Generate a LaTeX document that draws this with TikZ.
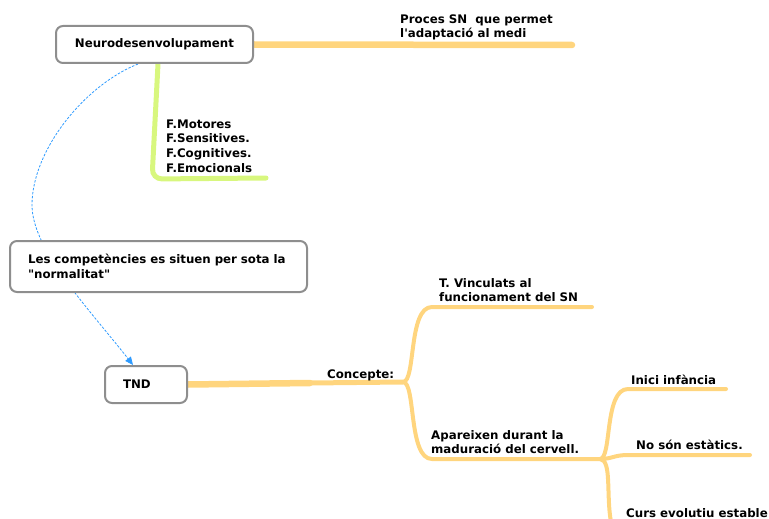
\documentclass[tikz,border=0pt]{standalone}
\usepackage{fontspec}
\setmainfont{DejaVu Sans}
\usetikzlibrary{arrows.meta}
\pgfdeclarelayer{links}
\pgfsetlayers{links,main}

\definecolor{branchorange}{HTML}{FFD57E}
\definecolor{branchgreen}{HTML}{D8F77E}
\definecolor{boxgray}{HTML}{8E8E8E}
\definecolor{linkblue}{HTML}{2E9BFF}

\tikzset{
  topic/.style={draw=boxgray, line width=2pt, rounded corners=7pt, fill=white,
    inner ysep=0pt, font=\bfseries\fontsize{11.8}{15.5}\selectfont},
  txt/.style={anchor=west, inner sep=0pt, align=left,
    font=\bfseries\fontsize{11.8}{14.6}\selectfont},
  trunk/.style={draw=branchorange, line width=6.5pt, line cap=round},
  twig/.style={draw=branchorange, line width=4pt, line cap=round},
  greentwig/.style={draw=branchgreen, line width=5pt, line cap=round, rounded corners=10pt},
  relation/.style={draw=linkblue, line width=0.8pt, dash pattern=on 2.5pt off 1.5pt,
    -{Triangle[length=8pt,width=7pt]}},
}

\begin{document}
\begin{tikzpicture}[x=1pt,y=-1pt]
\useasboundingbox (0,0) rectangle (769,519);

% central topics
\node[topic, minimum width=197pt, minimum height=37pt] (neuro) at (154.5,44.5) {Neurodesenvolupament};
\node[topic, text width=261pt, inner xsep=18pt, minimum height=51pt, align=left] (compet) at (158.5,266.5)
  {Les competències es situen per sota la\\\textquotedbl normalitat\textquotedbl};
\node[topic, text width=46pt, inner xsep=18pt, minimum height=37pt, align=left] (tnd) at (146,384.5) {TND};

% branch labels
\node[txt] (proces) at (400,27.5) {Proces SN\ \ que permet\\l\textquotesingle adaptació al medi};
\node[txt] (funcions) at (166,146) {F.Motores\\F.Sensitives.\\F.Cognitives.\\F.Emocionals};
\node[txt] (concepte) at (327,375) {Concepte:};
\node[txt] (vinculats) at (439,290) {T. Vinculats al\\funcionament del SN};
\node[txt] (apareixen) at (431,442) {Apareixen durant la\\maduració del cervell.};
\node[txt] (inici) at (631,380) {Inici infància};
\node[txt] (estatics) at (636,445) {No són estàtics.};
\node[txt] (curs) at (626,513) {Curs evolutiu estable};

% branch ends and forks
\coordinate (procesEnd) at (572,45);
\coordinate (funcEnd) at (266,178);
\coordinate (tndMid) at (310,383);
\coordinate (conceptFork) at (403,382);
\coordinate (vincEnd) at (592,307);
\coordinate (apaFork) at (600,459);
\coordinate (iniciEnd) at (726,389);
\coordinate (estaticsEnd) at (750,455);
\coordinate (cursEnd) at (611,522);
\coordinate (linkBend) at (32,205);

\begin{pgfonlayer}{links}
  \draw[trunk] (neuro.east) -- (procesEnd);
  \draw[greentwig] ([xshift=3.5pt]neuro.south) -- (152,179) -- (funcEnd);
  \draw[trunk] (tnd.east) -- (tndMid);
  \draw[twig, line width=5pt] (tndMid) -- (conceptFork);
  \draw[twig] (conceptFork) .. controls (416,382) and (408,307) .. (432,307) -- (vincEnd);
  \draw[twig] (conceptFork) .. controls (416,382) and (408,459) .. (432,459) -- (apaFork);
  \draw[twig] (apaFork) .. controls (612,459) and (604,389) .. (628,389) -- (iniciEnd);
  \draw[twig] (apaFork) .. controls (612,459) and (614,455) .. (628,455) -- (estaticsEnd);
  \draw[twig] (apaFork) .. controls (612,460) and (606,495) .. (cursEnd);
  % relationship line, passing behind the middle box
  \draw[relation] ([xshift=-16.5pt]neuro.south) .. controls (85,85) and (32,150) .. (linkBend)
    .. controls (32,250) and (90,310) .. ([xshift=-13pt]tnd.north);
\end{pgfonlayer}
\end{tikzpicture}
\end{document}
